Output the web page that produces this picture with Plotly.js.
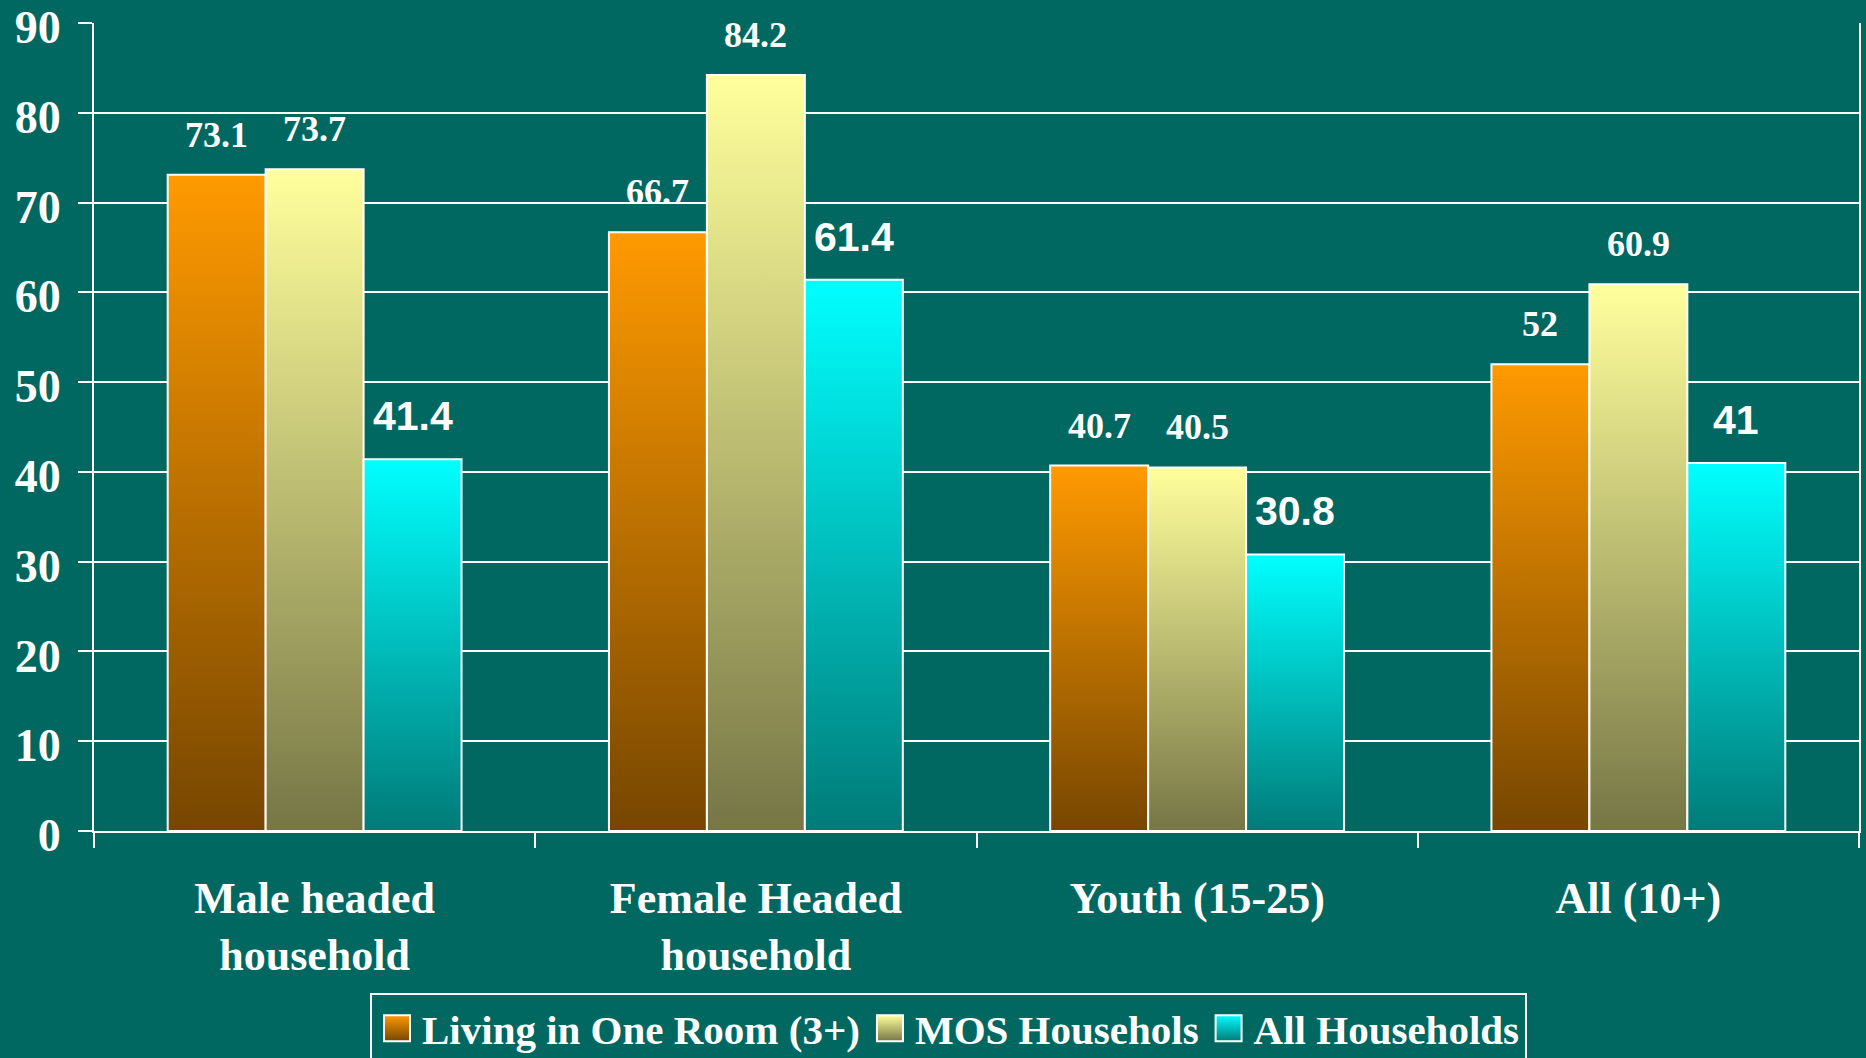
<!DOCTYPE html>
<html>
<head>
<meta charset="utf-8">
<script src="https://cdn.plot.ly/plotly-3.0.1.min.js"></script>
<style>
  html, body { margin: 0; padding: 0; background: #006861; }
  #chart { width: 1866px; height: 1058px; }
</style>
</head>
<body>
<div id="chart"></div>
<script>
// ---- data ----
const categories = ["Male headed<br>household", "Female Headed<br>household", "Youth (15-25)", "All (10+)"];
const seriesNames = ["Living in One Room (3+)", "MOS Househols", "All Households"];
const livingOneRoom = [73.1, 66.7, 40.7, 52];
const mosHouseholds = [73.7, 84.2, 40.5, 60.9];
const allHouseholds = [41.4, 61.4, 30.8, 41];
const yTicks = [0, 10, 20, 30, 40, 50, 60, 70, 80, 90];

// ---- styling ----
const BG = '#006861';
const W = 1866, H = 1058;
const margin = {l: 94, r: 7, t: 23, b: 227, autoexpand: false};
const bargap = 0.334;
const plotW = W - margin.l - margin.r;
const plotH = H - margin.t - margin.b;
const barW = plotW / categories.length * (1 - bargap) / 3;

const gradients = [
  {id: 'gOrange', top: '#FF9A00', bottom: '#764600'},
  {id: 'gYellow', top: '#FFFF9C', bottom: '#767646'},
  {id: 'gCyan', top: '#00FFFF', bottom: '#007B78'}
];
const seriesValues = [livingOneRoom, mosHouseholds, allHouseholds];
const flatColors = ['#C07000', '#C8C878', '#00BFBF'];

const traces = seriesValues.map((vals, i) => ({
  type: 'bar',
  name: seriesNames[i],
  x: categories,
  y: vals,
  marker: {color: flatColors[i], line: {color: '#FFFFFF', width: 2}},
  hoverinfo: 'skip'
}));

const serifLabel = {family: 'Liberation Serif, Times New Roman, serif', size: 36, color: '#FFFFFF', weight: 'bold'};
const sansLabel = {family: 'Liberation Sans, Arial, sans-serif', size: 41, color: '#FFFFFF', weight: 'bold'};

const annotations = [];
seriesValues.forEach((vals, i) => {
  vals.forEach((v, j) => {
    annotations.push({
      x: categories[j], y: v, xref: 'x', yref: 'y',
      text: String(v), showarrow: false,
      xanchor: 'center', yanchor: 'bottom',
      xshift: (i - 1) * barW,
      yshift: 18,
      font: i === 2 ? sansLabel : serifLabel
    });
  });
});
// slide number, mostly cut off at the bottom edge
annotations.push({
  x: 1780 / W, xref: 'paper', y: -(1051 - (H - margin.b)) / plotH, yref: 'paper',
  xanchor: 'center', yanchor: 'top', text: '19', showarrow: false,
  font: {family: 'Liberation Serif, serif', size: 26, color: '#FFFFFF'}
});

const layout = {
  width: W, height: H,
  margin: margin,
  paper_bgcolor: BG,
  plot_bgcolor: BG,
  barmode: 'group',
  bargap: bargap,
  bargroupgap: 0,
  showlegend: true,
  legend: {
    orientation: 'h',
    x: (370 - margin.l) / plotW, xanchor: 'left',
    y: -(993 - (H - margin.b)) / plotH, yanchor: 'top',
    bordercolor: '#FFFFFF', borderwidth: 2,
    bgcolor: 'rgba(0,0,0,0)',
    itemwidth: 40,
    font: {family: 'Liberation Serif, Times New Roman, serif', size: 41, color: '#FFFFFF', weight: 'bold'},
    itemclick: false, itemdoubleclick: false,
    traceorder: 'normal'
  },
  xaxis: {
    type: 'category',
    showline: true, linecolor: '#FFFFFF', linewidth: 2,
    ticks: 'outside', ticklen: 15, tickwidth: 2, tickcolor: '#FFFFFF',
    tickson: 'boundaries',
    showgrid: false, zeroline: false,
    ticklabelstandoff: 27,
    ticklabeloverflow: 'allow',
    tickfont: {family: 'Liberation Serif, Times New Roman, serif', size: 44, color: '#FFFFFF', weight: 'bold'},
    automargin: false, fixedrange: true
  },
  yaxis: {
    range: [0, 90],
    tickvals: yTicks,
    ticktext: yTicks.map(String),
    showline: true, linecolor: '#FFFFFF', linewidth: 2, mirror: true,
    ticks: 'outside', ticklen: 14, tickwidth: 2, tickcolor: '#FFFFFF',
    showgrid: true, gridcolor: '#FFFFFF', gridwidth: 2,
    zeroline: false,
    ticklabelstandoff: 8,
    ticklabelshift: 4,
    ticklabeloverflow: 'allow',
    tickfont: {family: 'Liberation Serif, Times New Roman, serif', size: 46, color: '#FFFFFF', weight: 'bold'},
    automargin: false, fixedrange: true
  },
  annotations: annotations
};

function applyGradients(gd) {
  const svg = gd.querySelector('.main-svg');
  const ns = 'http://www.w3.org/2000/svg';
  let defs = svg.querySelector('defs');
  if (!defs) { defs = document.createElementNS(ns, 'defs'); svg.insertBefore(defs, svg.firstChild); }
  gradients.forEach(g => {
    const lg = document.createElementNS(ns, 'linearGradient');
    lg.setAttribute('id', g.id);
    lg.setAttribute('x1', '0'); lg.setAttribute('y1', '0');
    lg.setAttribute('x2', '0'); lg.setAttribute('y2', '1');
    const s1 = document.createElementNS(ns, 'stop');
    s1.setAttribute('offset', '0'); s1.setAttribute('stop-color', g.top);
    const s2 = document.createElementNS(ns, 'stop');
    s2.setAttribute('offset', '1'); s2.setAttribute('stop-color', g.bottom);
    lg.appendChild(s1); lg.appendChild(s2);
    defs.appendChild(lg);
  });
  const traceGroups = gd.querySelectorAll('.barlayer .trace');
  traceGroups.forEach((tg, i) => {
    tg.querySelectorAll('path').forEach(p => { p.style.fill = 'url(#' + gradients[i].id + ')'; });
  });
  const legendItems = gd.querySelectorAll('.legend .traces');
  legendItems.forEach((li, i) => {
    li.querySelectorAll('.legendpoints path').forEach(p => {
      p.setAttribute('d', 'M13,13H-13V-13H13Z');
      p.style.fill = 'url(#' + gradients[i].id + ')';
      p.style.stroke = '#FFFFFF';
      p.style.strokeWidth = '2px';
    });
  });
}

Plotly.newPlot('chart', traces, layout, {staticPlot: true, displayModeBar: false}).then(applyGradients);
</script>
</body>
</html>
